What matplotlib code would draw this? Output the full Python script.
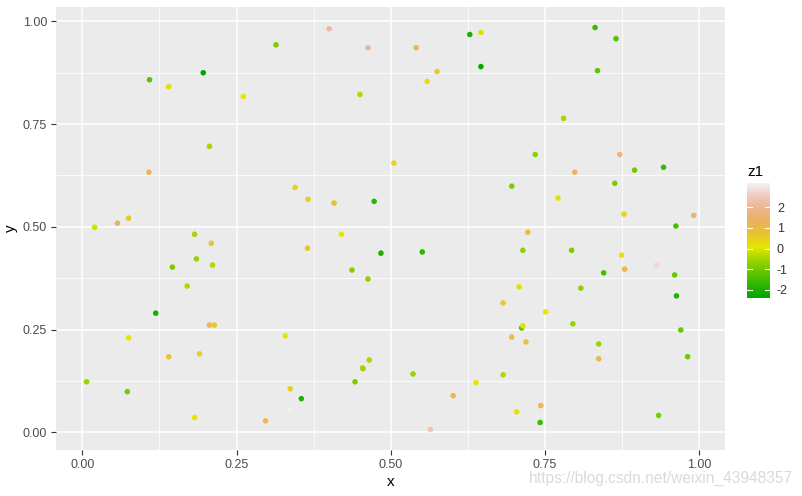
import matplotlib
matplotlib.use("Agg")
import matplotlib.pyplot as plt
import numpy as np
from matplotlib.colors import LinearSegmentedColormap, Normalize

plt.rcParams['font.family'] = ['Liberation Sans', 'DejaVu Sans']

# values (x, y, z1)
x = [0.400, 0.463, 0.314, 0.196, 0.109, 0.140, 0.261, 0.450, 0.206, 0.108,
     0.505, 0.345, 0.366, 0.408, 0.473, 0.020, 0.057, 0.075, 0.182, 0.209,
     0.420, 0.365, 0.628, 0.646, 0.541, 0.575, 0.559, 0.646, 0.831, 0.865,
     0.835, 0.780, 0.734, 0.871, 0.798, 0.895, 0.942, 0.696, 0.863, 0.771,
     0.878, 0.991, 0.962, 0.722, 0.484, 0.146, 0.185, 0.211, 0.170, 0.437,
     0.463, 0.119, 0.206, 0.214, 0.075, 0.140, 0.190, 0.329, 0.007, 0.073,
     0.182, 0.297, 0.337, 0.355, 0.337, 0.442, 0.454, 0.455, 0.465, 0.551,
     0.714, 0.793, 0.874, 0.879, 0.931, 0.845, 0.960, 0.963, 0.708, 0.808,
     0.682, 0.751, 0.795, 0.712, 0.714, 0.696, 0.719, 0.837, 0.837, 0.970,
     0.981, 0.536, 0.682, 0.638, 0.601, 0.704, 0.743, 0.742, 0.934, 0.564]
y = [0.982, 0.936, 0.943, 0.875, 0.858, 0.841, 0.817, 0.822, 0.696, 0.633,
     0.655, 0.596, 0.567, 0.558, 0.562, 0.499, 0.509, 0.521, 0.482, 0.460,
     0.482, 0.448, 0.968, 0.973, 0.936, 0.878, 0.854, 0.890, 0.985, 0.958,
     0.880, 0.764, 0.676, 0.676, 0.633, 0.638, 0.645, 0.599, 0.606, 0.570,
     0.531, 0.528, 0.502, 0.487, 0.436, 0.402, 0.422, 0.407, 0.356, 0.395,
     0.373, 0.290, 0.261, 0.261, 0.230, 0.184, 0.191, 0.235, 0.123, 0.099,
     0.036, 0.028, 0.106, 0.082, 0.055, 0.123, 0.157, 0.155, 0.176, 0.439,
     0.443, 0.443, 0.431, 0.397, 0.407, 0.388, 0.383, 0.332, 0.354, 0.351,
     0.315, 0.293, 0.264, 0.254, 0.259, 0.232, 0.220, 0.215, 0.179, 0.249,
     0.184, 0.142, 0.140, 0.121, 0.089, 0.050, 0.065, 0.024, 0.041, 0.007]
z1 = [2.1, 2.0, -0.9, -2.39, -1.3, 0.0, 0.1, -0.4, -0.5, 1.3,
      0.4, 0.4, 0.5, 0.8, -1.8, -0.1, 1.4, 0.6, -0.5, 0.7,
      0.1, 0.7, -2.0, 0.0, 1.2, 0.6, 0.2, -2.3, -1.6, -1.3,
      -1.2, -0.5, -0.7, 1.8, 1.3, -1.0, -1.6, -0.9, -0.9, 0.0,
      0.4, 1.6, -1.4, 0.9, -2.0, -0.9, -0.6, -0.4, -0.4, -0.8,
      -0.7, -2.1, 1.1, 0.6, 0.1, 0.7, 0.5, 0.1, -0.6, -1.0,
      0.1, 1.0, 0.5, -1.9, 3.17, -0.9, 0.7, -0.6, -0.5, -1.8,
      -0.7, -0.9, 0.1, 1.1, 2.7, -1.5, -1.1, -1.9, 0.0, -0.7,
      0.6, 0.1, -0.6, -1.3, 0.0, 0.9, 0.9, -0.6, 1.1, -1.1,
      -1.0, -0.6, -0.4, 0.1, 1.1, 0.2, 1.1, -1.6, -0.9, 2.4]

terrain10 = ["#00A600", "#2DB600", "#63C600", "#A0D600", "#E6E600",
             "#E8C32E", "#EBB25E", "#EDB48E", "#F0C9C0", "#F2F2F2"]
cmap = LinearSegmentedColormap.from_list("terrain", terrain10)
norm = Normalize(vmin=min(z1), vmax=max(z1))

W, H = 803, 496
fig = plt.figure(figsize=(W / 100, H / 100), dpi=100)
ax = fig.add_axes([56 / W, (H - 450) / H, 669 / W, 443 / H])
ax.set_facecolor("#EBEBEB")

ax.scatter(x, y, c=z1, cmap=cmap, norm=norm, s=16, linewidths=0, zorder=3)

ax.set_xlim(-0.0426, 1.0416)
ax.set_ylim(-0.043, 1.035)
ticks = [0, 0.25, 0.5, 0.75, 1.0]
ax.set_xticks(ticks)
ax.set_yticks(ticks)
ax.set_xticklabels(["0.00", "0.25", "0.50", "0.75", "1.00"])
ax.set_yticklabels(["0.00", "0.25", "0.50", "0.75", "1.00"])
ax.set_xticks([0.125, 0.375, 0.625, 0.875], minor=True)
ax.set_yticks([0.125, 0.375, 0.625, 0.875], minor=True)
ax.grid(which="major", color="white", linewidth=1.1)
ax.grid(which="minor", color="white", linewidth=0.55)
ax.set_axisbelow(True)
ax.tick_params(which="major", length=3.5, width=0.8, color="#333333",
               labelcolor="#4D4D4D", labelsize=9, pad=3)
ax.tick_params(which="minor", length=0)
for s in ax.spines.values():
    s.set_visible(False)
ax.set_xlabel("x", fontsize=11, labelpad=3)
ax.set_ylabel("y", fontsize=11, labelpad=3)

# colour bar legend
cax = fig.add_axes([747 / W, (H - 298) / H, 23 / W, 115 / H])
grad = np.linspace(norm.vmin, norm.vmax, 256).reshape(-1, 1)
cax.imshow(grad, cmap=cmap, norm=norm, aspect="auto", origin="lower",
           extent=[0, 1, norm.vmin, norm.vmax])
cax.set_xlim(0, 1)
cax.set_ylim(norm.vmin, norm.vmax)
cb_ticks = [-2, -1, 0, 1, 2]
for t in cb_ticks:
    cax.plot([0, 0.2], [t, t], color="white", lw=0.8)
    cax.plot([0.8, 1], [t, t], color="white", lw=0.8)
cax.set_xticks([])
cax.yaxis.tick_right()
cax.set_yticks(cb_ticks)
cax.set_yticklabels([str(t) for t in cb_ticks])
cax.tick_params(length=0, labelsize=9, labelcolor="#333333", pad=5)
for s in cax.spines.values():
    s.set_visible(False)
fig.text(747 / W, 1 - 172 / H, "z1", fontsize=11, va="center", ha="left")

fig.text(793 / W, 1 - 478 / H, "https://blog.csdn.net/weixin_43948357",
         fontsize=11.2, color="#DADADA", va="center", ha="right")

fig.savefig("out.png", dpi=100)
